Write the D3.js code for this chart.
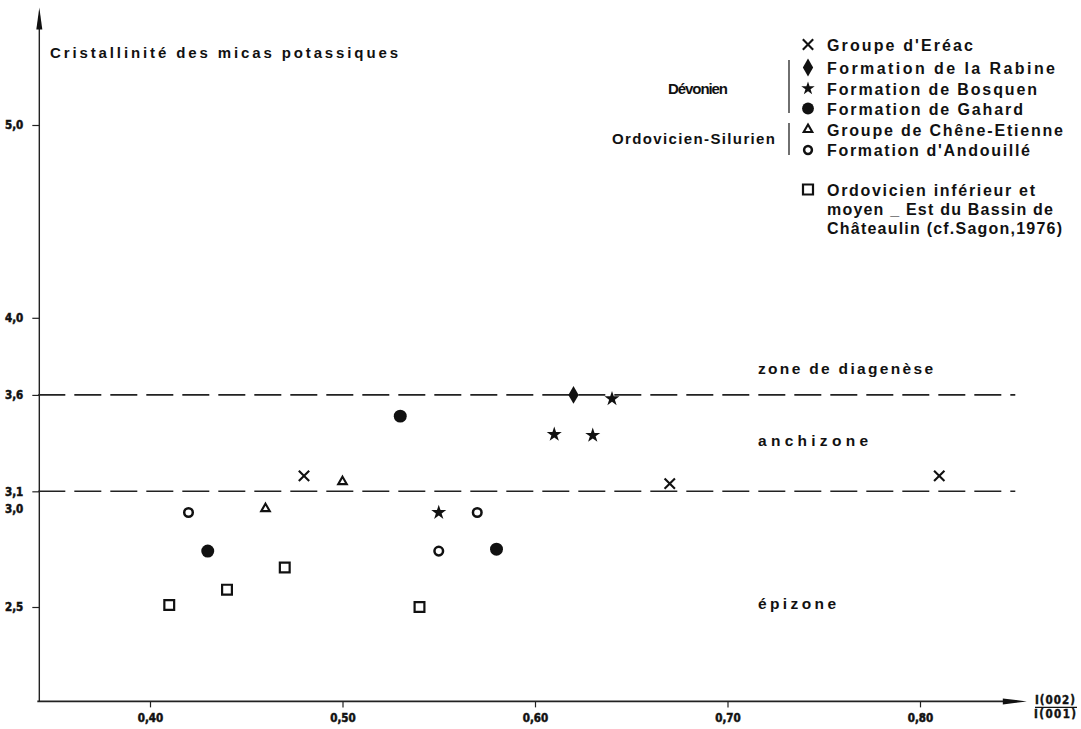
<!DOCTYPE html>
<html>
<head>
<meta charset="utf-8">
<script src="https://cdn.jsdelivr.net/npm/d3@7"></script>
<style>
  html, body { margin: 0; padding: 0; background: #fff; }
  svg { display: block; }
  .lbl { font-family: "Liberation Sans", Arial, sans-serif; font-weight: bold; fill: #111; }
  .tick text { font-family: "DejaVu Sans Condensed", "DejaVu Sans", sans-serif; font-weight: bold; font-stretch: condensed; fill: #111; stroke: #111; stroke-width: 0.5; }
</style>
</head>
<body>
<svg id="chart" width="1081" height="729"></svg>
<script>
// ---------------- DATA ----------------
const xTicks = [0.40, 0.50, 0.60, 0.70, 0.80];
const yTicks = [2.5, 3.1, 3.6, 4.0, 5.0];
const yLabelOnly = [3.0];
const zoneBounds = [3.6, 3.1];
const zoneNames = ["zone de diagenèse", "anchizone", "épizone"];

const groupeEreac      = [[0.48, 3.18], [0.67, 3.14], [0.81, 3.18]];
const formationRabine  = [[0.62, 3.60]];
const formationBosquen = [[0.55, 2.99], [0.61, 3.395], [0.63, 3.39], [0.64, 3.58]];
const formationGahard  = [[0.43, 2.79], [0.53, 3.49], [0.58, 2.80]];
const groupeChene      = [[0.46, 3.01], [0.50, 3.15]];
const formationAndouille = [[0.42, 2.99], [0.55, 2.79], [0.57, 2.99]];
const ordovicienSagon  = [[0.41, 2.51], [0.44, 2.59], [0.47, 2.705], [0.54, 2.50]];

const seriesNames = ["Groupe d'Eréac", "Formation de la Rabine", "Formation de Bosquen",
  "Formation de Gahard", "Groupe de Chêne-Etienne", "Formation d'Andouillé"];
const sagonLines = ["Ordovicien inférieur et", "moyen _ Est du Bassin de", "Châteaulin (cf.Sagon,1976)"];
const groupLabels = ["Dévonien", "Ordovicien-Silurien"];
const yTitle = "Cristallinité des micas potassiques";
const xTitleNum = "I(002)", xTitleDen = "I(001)";

// ---------------- DRAW ----------------
const svg = d3.select("#chart");
const x = d3.scaleLinear().domain([0.40, 0.80]).range([150, 920]);
const y = d3.scaleLinear().domain([2.5, 5.0]).range([607, 125]);
const xMin = 0.3425, xMax = 0.8555, yMin = 2.0105, yMax = 5.61, dashEnd = 0.8495;

const loc = d3.formatLocale({decimal: ",", thousands: ".", grouping: [3], currency: ["", ""]});
const fx = loc.format(".2f"), fy = loc.format(".1f");

// zone boundaries (dashed)
svg.append("g").selectAll("line").data(zoneBounds).join("line")
  .attr("x1", x(xMin) - 1).attr("x2", x(dashEnd))
  .attr("y1", d => y(d)).attr("y2", d => y(d))
  .attr("stroke", "#222").attr("stroke-width", (d, i) => i === 0 ? 1.8 : 1.4)
  .attr("stroke-dasharray", "27,9");

// axes ticks
const gx = svg.append("g").attr("transform", `translate(0,${y(yMin)})`)
  .call(d3.axisBottom(x).tickValues(xTicks).tickFormat(fx).tickSize(6).tickPadding(6));
gx.select(".domain").remove();
gx.selectAll(".tick line").attr("stroke", "#222").attr("stroke-width", 1.2);
gx.selectAll(".tick text").attr("font-size", 11.5);

const gy = svg.append("g").attr("transform", `translate(${x(xMin)},0)`)
  .call(d3.axisLeft(y).tickValues(yTicks).tickFormat(fy).tickSize(7).tickPadding(9));
gy.select(".domain").remove();
gy.selectAll(".tick line").attr("stroke", "#222").attr("stroke-width", 1.2);
gy.selectAll(".tick text").attr("font-size", 11.5);

svg.append("g").selectAll("text").data(yLabelOnly).join("text")
  .attr("class", "lbl")
  .attr("x", x(xMin) - 16).attr("y", d => y(d) - 2).attr("dy", "0.35em")
  .attr("text-anchor", "end")
  .style("font-family", '"DejaVu Sans Condensed", "DejaVu Sans", sans-serif')
  .style("font-stretch", "condensed").attr("stroke", "#111").attr("stroke-width", 0.5)
  .attr("font-size", 11.5).text(fy);

// axis lines with arrows
svg.append("line").attr("x1", x(xMin)).attr("x2", x(xMin))
  .attr("y1", y(yMin)).attr("y2", y(yMax) + 10)
  .attr("stroke", "#222").attr("stroke-width", 1.4);
svg.append("path")
  .attr("d", `M${x(xMin)},${y(yMax)} L${x(xMin) - 3},${y(yMax) + 22} L${x(xMin) + 3},${y(yMax) + 22} Z`)
  .attr("fill", "#111");
svg.append("line").attr("x1", x(xMin) - 2).attr("x2", x(xMax) - 10)
  .attr("y1", y(yMin)).attr("y2", y(yMin))
  .attr("stroke", "#222").attr("stroke-width", 1.6);
svg.append("path")
  .attr("d", `M${x(xMax)},${y(yMin)} L${x(xMax) - 24},${y(yMin) - 3} L${x(xMax) - 24},${y(yMin) + 3} Z`)
  .attr("fill", "#111");

// x title (fraction)
const fr = svg.append("g").attr("class", "lbl")
  .style("font-family", '"DejaVu Sans Condensed", "DejaVu Sans", sans-serif')
  .style("font-stretch", "condensed").attr("font-size", 11.5)
  .attr("stroke", "#111").attr("stroke-width", 0.4);
fr.append("text").attr("x", 1055).attr("y", y(yMin) + 3).attr("text-anchor", "middle")
  .attr("textLength", 40).attr("lengthAdjust", "spacing").text(xTitleNum);
fr.append("line").attr("x1", 1035).attr("x2", 1077).attr("y1", y(yMin) + 6).attr("y2", y(yMin) + 6)
  .attr("stroke", "#111").attr("stroke-width", 1.3);
fr.append("text").attr("x", 1055).attr("y", y(yMin) + 17).attr("text-anchor", "middle")
  .attr("textLength", 42).attr("lengthAdjust", "spacing").text(xTitleDen);

// helper for spaced text
function spacedText(sel, str, x0, yb, w, size) {
  return sel.append("text").attr("class", "lbl")
    .attr("x", x0).attr("y", yb).attr("font-size", size)
    .attr("textLength", w).attr("lengthAdjust", "spacing")
    .style("white-space", "pre").text(str);
}

// y title
spacedText(svg, yTitle, 50, 57.5, 348, 15);

// zone names
const zoneLayout = [[758, 374, 175], [758, 446, 110], [758, 609, 78]];
zoneNames.forEach((n, i) => spacedText(svg, n, zoneLayout[i][0], zoneLayout[i][1], zoneLayout[i][2], 15.5));

// symbols
const symStyles = {
  cross:   {type: d3.symbolTimes,    fill: "none", stroke: 2.1},
  diamond: {type: d3.symbolDiamond,  fill: "#111", stroke: 0},
  star:    {type: d3.symbolStar,     fill: "#111", stroke: 0},
  dot:     {type: d3.symbolCircle,   fill: "#111", stroke: 0},
  tri:     {type: d3.symbolTriangle, fill: "none", stroke: 2.1},
  ring:    {type: d3.symbolCircle,   fill: "none", stroke: 2.5},
  square:  {type: d3.symbolSquare,   fill: "none", stroke: 2.2}
};
const symSize = {cross: 72, diamond: 92, star: 70, dot: 132, tri: 32, ring: 58, square: 96};
const legSize = {cross: 72, diamond: 92, star: 56, dot: 110, tri: 32, ring: 48, square: 100};

function drawSym(g, kind, px, py, size) {
  const s = symStyles[kind];
  g.append("path")
    .attr("d", d3.symbol(s.type, size)())
    .attr("transform", `translate(${px},${py})`)
    .attr("fill", s.fill)
    .attr("stroke", s.stroke ? "#111" : "none")
    .attr("stroke-width", s.stroke)
    .attr("stroke-linejoin", "miter");
}

const allSeries = [
  [groupeEreac, "cross"], [formationRabine, "diamond"], [formationBosquen, "star"],
  [formationGahard, "dot"], [groupeChene, "tri"], [formationAndouille, "ring"],
  [ordovicienSagon, "square"]
];
const pts = svg.append("g");
allSeries.forEach(([data, kind]) => data.forEach(d => drawSym(pts, kind, x(d[0]), y(d[1]), symSize[kind])));

// legend
const leg = svg.append("g");
const legY = [44.5, 67.5, 88.5, 108.5, 129.5, 150];
const legW = [146, 228, 210, 196, 236, 203];
seriesNames.forEach((n, i) => {
  drawSym(leg, allSeries[i][1], 808, legY[i], legSize[allSeries[i][1]]);
  spacedText(leg, n, 827, legY[i] + 6, legW[i], 16);
});
drawSym(leg, "square", 808, 189.5, legSize.square);
const sagY = [189.5, 208.5, 228], sagW = [208, 226, 235];
sagonLines.forEach((n, i) => spacedText(leg, n, 827, sagY[i] + 6, sagW[i], 16));

// group brackets
leg.append("line").attr("x1", 789).attr("x2", 789).attr("y1", 60).attr("y2", 113)
  .attr("stroke", "#222").attr("stroke-width", 1.3);
leg.append("line").attr("x1", 789).attr("x2", 789).attr("y1", 123).attr("y2", 155)
  .attr("stroke", "#222").attr("stroke-width", 1.3);
spacedText(leg, groupLabels[0], 668, 94, 60, 15);
spacedText(leg, groupLabels[1], 612, 144, 163, 15);
</script>
</body>
</html>
